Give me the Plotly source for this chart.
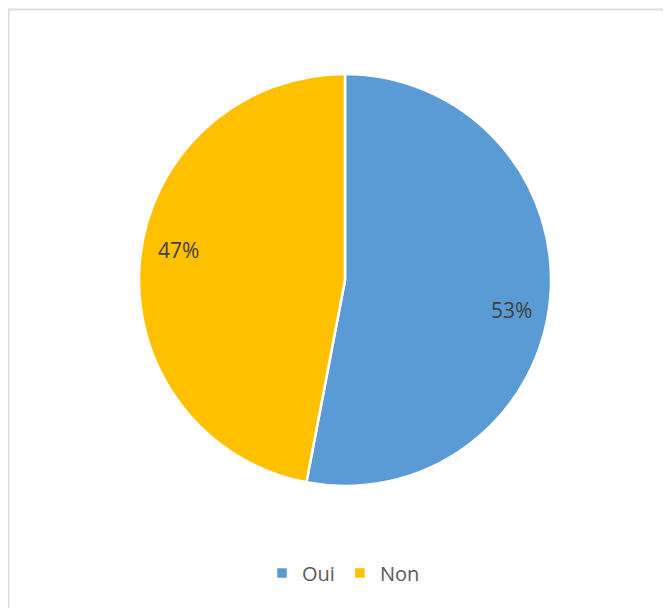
import math
import plotly.graph_objects as go

labels = ["Oui", "Non"]
values = [53, 47]
colors = ["#5B9BD5", "#FFC000"]

W, H = 671, 608
# the page body adds an 8px offset; geometry below is in figure pixels
cx, cy, R = 337, 272, 206
LABEL_R = 0.82        # label radius as a fraction of R
LABEL_SHIFT = 5.0     # degrees, clockwise shift of labels from slice mid-angle

fig = go.Figure()
fig.add_trace(go.Pie(
    labels=labels, values=values, sort=False, direction="clockwise", rotation=0,
    marker=dict(colors=colors, line=dict(color="white", width=2.5)),
    textinfo="none", hoverinfo="label+percent",
    domain=dict(x=[(cx - R) / W, (cx + R) / W], y=[(H - cy - R) / H, (H - cy + R) / H]),
))

# percentage labels placed from the data (angle from cumulative values)
total = sum(values)
cum = 0
annotations = []
for lab, v in zip(labels, values):
    mid = (cum + v / 2) / total * 2 * math.pi + math.radians(LABEL_SHIFT)
    cum += v
    rr = LABEL_R * R
    px = cx + rr * math.sin(mid)
    py = cy - rr * math.cos(mid)
    annotations.append(dict(
        x=px / W, y=(H - py) / H, xref="paper", yref="paper",
        xanchor="center", yanchor="middle",
        text=f"{round(v / total * 100)}%", showarrow=False,
        font=dict(family="Open Sans, Lato, sans-serif", size=21, color="#404040"),
    ))

fig.update_layout(
    width=W, height=H,
    margin=dict(l=0, r=0, t=0, b=0),
    paper_bgcolor="white", plot_bgcolor="white",
    showlegend=True,
    legend=dict(orientation="h", x=0.5, xanchor="center", y=(H - 565) / H, yanchor="middle",
                font=dict(family="Open Sans, Lato, sans-serif", size=20, color="#595959"),
                itemwidth=30, traceorder="normal"),
    annotations=annotations,
    shapes=[dict(type="rect", xref="paper", yref="paper",
                 x0=0.5 / W, x1=1.05, y0=-0.05, y1=(H - 1.5) / H,
                 line=dict(color="#dcdcdc", width=2), fillcolor="rgba(0,0,0,0)", layer="below")],
)

fig.write_html("out.html")
